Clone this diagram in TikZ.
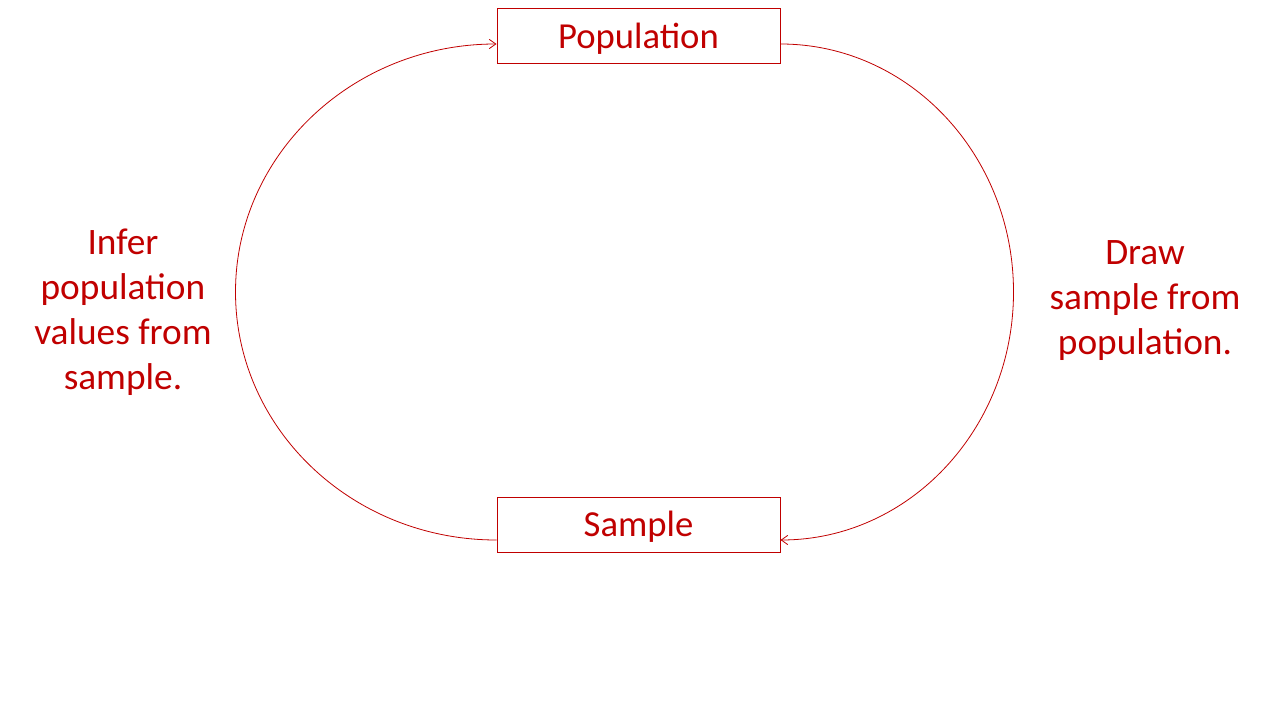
\documentclass[tikz,border=0pt]{standalone}
\usepackage{fontspec}
\setmainfont{Carlito}
\usetikzlibrary{arrows.meta}
\definecolor{dred}{HTML}{C00000}
\begin{document}
\begin{tikzpicture}[x=0.75pt,y=-0.75pt,
  box/.style={draw=dred,line width=0.75pt,minimum width=212.25pt,minimum height=41.25pt,inner sep=0pt,text=dred,text height=20pt,text depth=1.5pt,font=\fontsize{27.5}{33.75}\selectfont},
  lbl/.style={text=dred,align=center,font=\fontsize{28}{33.75}\selectfont},
  conn/.style={draw=dred,line width=0.6pt,-{Straight Barb[length=5pt,width=7pt,line width=0.6pt]}}]
\useasboundingbox (0,0) rectangle (1280,720);
\node[box] (pop) at (638.5,36.5) {Population};
\node[box] (samp) at (638.5,524.5) {Sample};
\coordinate (pr) at ([yshift=-5.625pt]pop.east);
\coordinate (sl) at ([yshift=-11.625pt]samp.west);
\draw[conn] (pr) arc[start angle=90,end angle=-90,x radius=174.75pt,y radius=186pt];
\draw[conn] (sl) arc[start angle=270,end angle=90,x radius=195.75pt,y radius=186pt];
\node[lbl] (infer) at (123,312.5) {Infer\\population\\values from\\sample.};
\node[lbl] (drawt) at (1145,301) {Draw\\sample from\\population.};
\end{tikzpicture}
\end{document}
